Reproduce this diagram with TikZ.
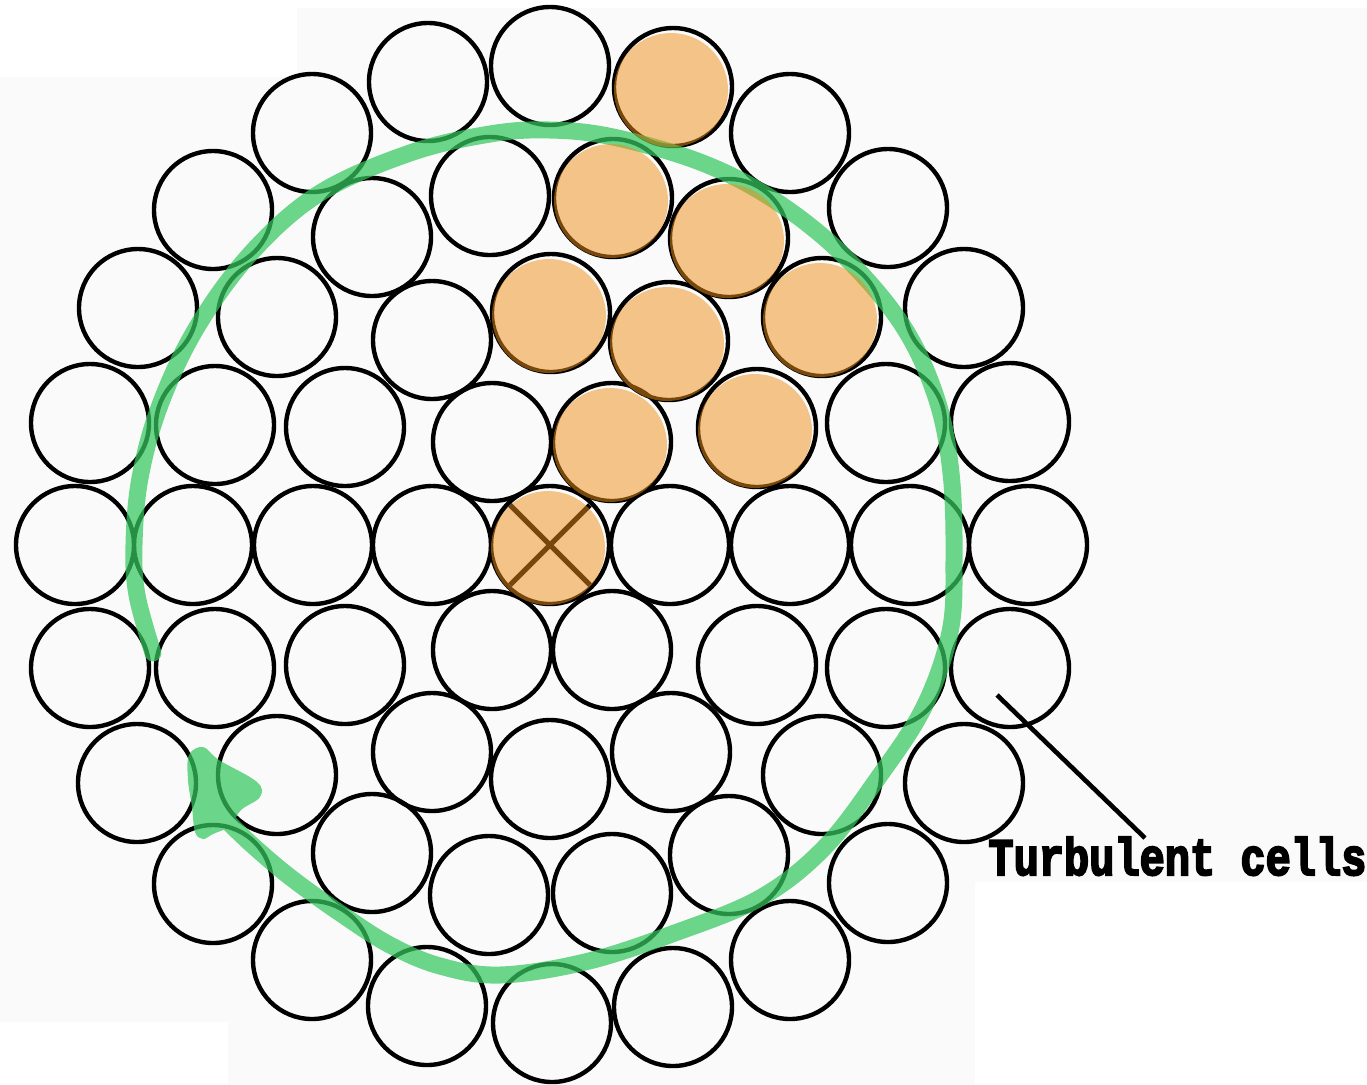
\documentclass[tikz,border=0pt]{standalone}
\usepackage{fontspec}
\usepackage{graphicx}
\usetikzlibrary{calc}
\newfontfamily\labelfont{Liberation Mono}[UprightFont=* Bold, FakeBold=4]
\definecolor{bggray}{RGB}{250,250,250}
\definecolor{orangefill}{RGB}{238,142,22}
\definecolor{flowgreen}{RGB}{53,199,94}
\begin{document}
\begin{tikzpicture}[x=0.5pt,y=-0.5pt,
  cell/.style={circle, draw=black, line width=2.2pt, minimum size=59pt, inner sep=0pt},
  hot/.style={fill=orangefill, opacity=0.5},
  leader/.style={draw=black, line width=2.3pt},
  flow/.style={draw=flowgreen, line width=8.5pt, line cap=round, line join=round}]
% background
\fill[bggray] (0,0) rectangle (1367,1084);
\fill[white] (0,0) rectangle (297,77);
\fill[white] (297,0) rectangle (1367,8);
\fill[white] (0,1022) rectangle (228,1084);
\fill[white] (975,882) rectangle (1367,1084);
\useasboundingbox (0,0) rectangle (1367,1084);
% cells
\foreach \cx/\cy [count=\i] in {
  428/82, 550/66, 673/87,
  312/133, 790/133,
  213/210, 372/237, 490/196, 613/198, 729/238, 888/208,
  138/308, 277/317, 432/340, 551/313, 669/341, 822/317, 964/308,
  90/423, 215/425, 345/427, 492/442, 612/442, 757/428, 886/423, 1010/422,
  75/545, 193/545, 313/545, 432/545, 550/545, 670/545, 790/545, 910/545, 1028/545,
  90/668, 215/668, 345/665, 492/650, 612/650, 757/665, 886/668, 1010/668,
  137/783, 277/775, 432/752, 550/779, 671/752, 822/775, 964/783,
  213/884, 372/853, 489/895, 612/893, 729/855, 888/883,
  312/960, 790/960,
  427/1006, 552/1023, 673/1007}
  \node[cell] (c\i) at (\cx,\cy) {};
% cross in the central cell
\draw[line width=2.6pt] (c31.center) ++(-40,-40) -- ++(80,80);
\draw[line width=2.6pt] (c31.center) ++(40,-40) -- ++(-80,80);
% circulation
\begin{scope}[transparency group, opacity=0.72]
\draw[flow] plot[smooth, tension=0.6] coordinates {
  (153,653) (137,595) (134,545) (140,478) (160,405) (197,327) (252,252)
  (320,193) (410,153) (490,134) (550,130) (613,137) (700,162) (771,198)
  (840,252) (901,323) (936,397) (951,473) (954,560) (950,632) (924,707)
  (878,778) (824,848) (760,898) (672,934) (585,962) (500,975) (440,966)
  (390,945) (340,913) (290,877) (250,843) (218,812)};
\fill[flowgreen] plot[smooth cycle, tension=0.6] coordinates {
  (188,780) (189,755) (203,747) (219,760) (257,782) (260,797) (241,810)
  (230,826) (213,834) (203,839) (195,832) (192,807)};
\end{scope}
% hot cells
\foreach \k in {3,9,10,15,16,17,23,24,31}
  \fill[hot] ($(c\k.center)+(-2,3)$) circle[radius=57];
% label
\node[anchor=base west, inner sep=0pt, font=\labelfont\fontsize{21}{24}\selectfont]
  (lbl) at (988,875) {\scalebox{1}[1.25]{Turbulent cells}};
\coordinate (lstart) at (997,695);
\coordinate (lend) at (1145,838);
\draw[leader] (lstart) -- (lend);
\end{tikzpicture}
\end{document}
